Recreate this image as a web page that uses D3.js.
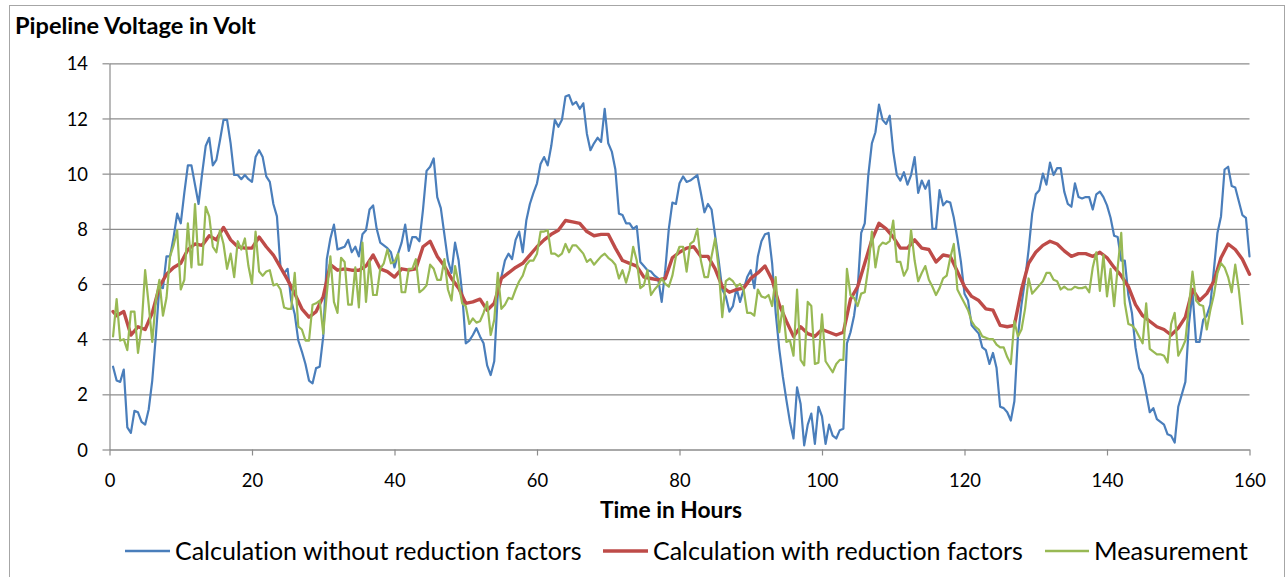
<!DOCTYPE html>
<html>
<head>
<meta charset="utf-8">
<script src="https://cdn.jsdelivr.net/npm/d3@7"></script>
<style>
  html, body { margin: 0; padding: 0; background: #ffffff; }
  svg { display: block; }
  text { font-family: Lato, "Open Sans", "Liberation Sans", sans-serif; fill: #000;
         font-variant-ligatures: none; font-feature-settings: "liga" 0, "dlig" 0, "clig" 0; }
</style>
</head>
<body>
<svg id="chart" width="1287" height="577"></svg>
<script>
// ---------------- data ----------------
const chartTitle = "Pipeline Voltage in Volt";
const xAxisTitle = "Time in Hours";
const seriesNames = ["Calculation without reduction factors", "Calculation with reduction factors", "Measurement"];
const xTicks = [0, 20, 40, 60, 80, 100, 120, 140, 160];
const yTicks = [0, 2, 4, 6, 8, 10, 12, 14];

// half-hourly samples, hours 0.5 .. 160
const blueHours = d3.range(0.5, 160.01, 0.5);
const blueValues = [
  3.0, 2.5, 2.45, 2.9, 0.8, 0.6, 1.4, 1.35, 1.0, 0.9,
  1.45, 2.5, 4.1, 5.9, 5.85, 7.0, 7.0, 7.7, 8.55, 8.2,
  9.3, 10.3, 10.3, 9.6, 8.9, 10.0, 11.0, 11.3, 10.3, 10.5,
  11.2, 11.95, 11.95, 11.1, 9.95, 9.95, 9.8, 9.95, 9.8, 9.7,
  10.6, 10.85, 10.6, 9.9, 9.7, 8.9, 8.45, 6.6, 6.4, 6.55,
  5.4, 4.9, 3.95, 3.55, 3.1, 2.5, 2.4, 2.95, 3.0, 4.1,
  6.9, 7.65, 8.15, 7.25, 7.3, 7.35, 7.6, 7.15, 7.35, 7.0,
  7.8, 7.95, 8.7, 8.85, 8.0, 7.5, 7.4, 7.3, 7.15, 6.6,
  7.1, 7.5, 8.15, 7.2, 7.7, 7.7, 7.55, 8.7, 10.1, 10.25,
  10.55, 9.15, 8.75, 7.8, 6.85, 6.4, 7.5, 6.85, 5.65, 3.85,
  3.95, 4.15, 4.4, 4.1, 3.85, 3.05, 2.7, 3.2, 5.65, 6.25,
  6.85, 7.1, 6.9, 7.6, 7.9, 7.15, 8.3, 8.9, 9.3, 9.65,
  10.35, 10.6, 10.3, 11.0, 11.95, 11.7, 11.95, 12.8, 12.85, 12.5,
  12.6, 12.35, 12.55, 11.45, 10.85, 11.1, 11.3, 11.15, 12.35, 11.1,
  10.8, 10.15, 8.55, 8.5, 8.2, 8.2, 8.0, 8.1, 6.8, 6.65,
  6.5, 6.45, 6.3, 6.2, 5.35, 6.5, 8.0, 8.95, 8.9, 9.65,
  9.9, 9.7, 9.75, 9.85, 9.95, 9.3, 8.6, 8.9, 8.7, 7.75,
  6.85, 5.8, 5.55, 5.0, 5.2, 5.85, 5.35, 5.8, 6.25, 6.5,
  5.85, 7.0, 7.55, 7.8, 7.85, 6.75, 4.95, 3.65, 2.65, 1.8,
  1.0, 0.4, 2.25, 1.65, 0.15, 0.9, 1.3, 0.2, 1.55, 1.2,
  0.2, 0.9, 0.5, 0.4, 0.7, 0.75, 3.85, 4.25, 4.85, 5.8,
  7.85, 8.2, 9.95, 11.1, 11.5, 12.5, 11.95, 11.8, 12.1, 10.8,
  9.95, 9.75, 10.05, 9.6, 9.95, 10.6, 9.3, 9.75, 9.45, 9.75,
  8.0, 8.0, 9.4, 8.85, 9.0, 8.95, 8.4, 7.65, 6.8, 5.65,
  5.4, 4.5, 4.35, 4.2, 3.7, 3.6, 3.1, 3.5, 2.95, 1.55,
  1.5, 1.35, 1.05, 1.75, 4.1, 5.25, 6.15, 7.25, 8.55, 9.25,
  9.4, 10.0, 9.6, 10.4, 9.95, 10.2, 10.2, 9.35, 8.9, 8.8,
  9.65, 9.15, 9.1, 9.15, 9.15, 8.7, 9.25, 9.35, 9.15, 8.85,
  8.4, 7.75, 7.7, 6.85, 6.85, 5.6, 4.95, 3.7, 2.95, 2.7,
  2.05, 1.35, 1.5, 1.1, 1.0, 0.9, 0.55, 0.5, 0.25, 1.55,
  2.0, 2.45, 4.55, 5.7, 3.9, 3.9, 4.7, 4.85, 5.25, 6.5,
  7.85, 8.45, 10.15, 10.25, 9.55, 9.5, 9.0, 8.5, 8.4, 7.0
];

// hourly samples, hour 0.5 then 1 .. 160
const redHours = [0.5].concat(d3.range(1, 161));
const redValues = [
  5.0,
  4.85, 5.0, 4.15, 4.45, 4.35, 4.95, 5.9, 6.35, 6.6, 6.75,
  7.25, 7.45, 7.4, 7.75, 7.6, 8.05, 7.6, 7.35, 7.3, 7.3,
  7.7, 7.35, 7.05, 6.6, 6.15, 5.65, 5.1, 4.8, 5.0, 5.55,
  6.7, 6.5, 6.55, 6.5, 6.5, 6.65, 7.05, 6.55, 6.45, 6.25,
  6.55, 6.5, 6.55, 7.35, 7.55, 7.0, 6.65, 6.2, 5.85, 5.3,
  5.35, 5.45, 5.05, 5.3, 6.2, 6.4, 6.6, 6.75, 7.05, 7.35,
  7.6, 7.8, 7.95, 8.3, 8.25, 8.2, 7.9, 7.75, 7.8, 7.8,
  7.3, 6.85, 6.75, 6.65, 6.25, 6.2, 6.15, 6.2, 6.95, 7.15,
  7.3, 7.35, 7.0, 7.0, 6.55, 5.9, 5.7, 5.8, 5.85, 6.2,
  6.4, 6.65, 6.15, 5.25, 4.65, 4.1, 4.45, 4.2, 4.1, 4.35,
  4.25, 4.15, 4.25, 5.45, 5.9, 6.75, 7.6, 8.2, 8.0, 7.7,
  7.3, 7.3, 7.6, 7.3, 7.25, 6.8, 7.05, 7.0, 6.45, 5.9,
  5.55, 5.4, 5.1, 5.05, 4.5, 4.45, 4.5, 5.8, 6.75, 7.15,
  7.4, 7.55, 7.45, 7.2, 7.0, 7.1, 7.1, 7.0, 7.15, 6.95,
  6.6, 6.3, 5.9, 5.25, 4.85, 4.65, 4.45, 4.35, 4.15, 4.4,
  4.8, 5.8, 5.4, 5.65, 6.1, 6.95, 7.45, 7.25, 6.9, 6.35
];

// half-hourly samples, hours 0.5 .. 159
const greenHours = d3.range(0.5, 159.01, 0.5);
const greenValues = [
  4.1, 5.45, 3.95, 4.0, 3.6, 5.0, 5.0, 3.5, 4.45, 6.5,
  5.25, 3.9, 5.4, 6.15, 4.85, 5.5, 7.0, 7.4, 7.95, 5.8,
  6.15, 8.2, 6.6, 8.9, 6.7, 6.7, 8.8, 8.45, 7.35, 7.15,
  7.95, 7.45, 6.55, 7.1, 6.25, 7.55, 7.25, 7.65, 6.65, 6.0,
  7.9, 6.45, 6.3, 6.45, 6.5, 5.95, 6.0, 5.8, 5.15, 5.1,
  5.1, 6.4, 4.45, 4.35, 3.95, 3.95, 5.25, 5.3, 5.4, 4.2,
  5.65, 7.0, 5.35, 4.95, 6.95, 6.8, 5.25, 5.25, 6.6, 5.15,
  7.5, 5.35, 6.85, 5.6, 5.6, 6.55, 6.75, 7.25, 6.75, 6.8,
  7.1, 5.7, 5.7, 6.55, 6.55, 6.9, 5.7, 5.8, 5.95, 6.7,
  6.55, 6.15, 6.15, 6.9, 5.8, 5.4, 6.65, 6.0, 5.3, 5.2,
  4.55, 4.75, 4.6, 4.65, 4.95, 5.35, 4.15, 4.7, 6.4, 5.1,
  5.25, 5.5, 5.45, 5.8, 6.1, 6.3, 6.7, 6.85, 6.85, 7.1,
  7.9, 7.9, 7.95, 7.1, 7.1, 7.0, 7.1, 7.45, 7.15, 7.4,
  7.4, 7.25, 7.1, 6.8, 6.9, 6.7, 6.85, 7.0, 7.1, 6.95,
  6.85, 6.7, 6.2, 6.5, 6.05, 6.5, 7.35, 6.85, 5.85, 5.95,
  6.5, 5.6, 5.8, 5.95, 6.2, 6.0, 5.9, 6.3, 7.0, 7.35,
  7.35, 6.45, 7.45, 7.55, 8.0, 6.85, 6.25, 6.25, 7.0, 7.65,
  6.55, 4.8, 6.1, 6.2, 6.1, 5.9, 6.0, 5.8, 4.95, 4.95,
  4.85, 5.8, 5.55, 5.5, 5.6, 5.2, 6.25, 4.25, 5.2, 3.9,
  3.95, 3.4, 5.8, 3.25, 3.05, 5.35, 5.2, 3.1, 3.15, 4.9,
  3.2, 3.0, 2.8, 3.1, 3.25, 3.25, 6.55, 5.6, 5.5, 5.2,
  5.65, 5.7, 6.6, 7.9, 6.6, 7.35, 7.5, 7.45, 7.55, 8.3,
  6.8, 6.8, 6.3, 6.55, 7.95, 6.85, 6.1, 6.4, 6.65, 6.15,
  5.9, 5.6, 5.85, 6.2, 6.3, 6.95, 7.45, 5.8, 5.55, 5.3,
  5.05, 4.65, 4.45, 4.35, 4.1, 4.05, 4.0, 4.0, 3.8, 3.7,
  3.7, 3.35, 3.1, 4.65, 4.1, 4.35, 5.1, 6.2, 5.65, 5.8,
  5.95, 6.1, 6.4, 6.4, 6.15, 6.1, 5.8, 5.9, 5.8, 5.8,
  5.9, 5.85, 5.85, 5.9, 5.7, 6.6, 7.15, 5.75, 7.05, 5.55,
  6.55, 5.2, 6.6, 7.85, 5.3, 4.55, 4.5, 4.35, 4.1, 3.85,
  5.3, 3.65, 3.55, 3.45, 3.45, 3.4, 3.15, 4.55, 4.95, 3.4,
  3.65, 3.95, 5.2, 6.45, 5.4, 5.25, 5.2, 4.35, 5.05, 5.6,
  6.4, 6.75, 6.6, 6.25, 5.7, 6.7, 5.8, 4.55
];

const seriesColors = ["#4a7ebb", "#be4b48", "#98b954"];

// ---------------- drawing ----------------
const svg = d3.select("#chart");
const plot = { left: 109.5, right: 1249.5, top: 63.3, bottom: 449.5 };
const gridColor = "#8c8c8c";

const x = d3.scaleLinear().domain([0, 160]).range([plot.left, plot.right]);
const y = d3.scaleLinear().domain([0, 14]).range([plot.bottom, plot.top]);

// fit a text element's font size so its width matches target
function fitWidth(sel, target, base) {
  sel.style("font-size", base + "px");
  const w = sel.node().getComputedTextLength();
  const fs = base * target / w;
  sel.style("font-size", fs + "px");
  return fs;
}

// outer chart border
svg.append("rect")
  .attr("x", 9.5).attr("y", 5.5)
  .attr("width", 1275).attr("height", 600)
  .attr("fill", "none").attr("stroke", "#a6a6a6").attr("stroke-width", 1);

// horizontal gridlines
svg.append("g")
  .attr("transform", `translate(${plot.left},0)`)
  .call(d3.axisLeft(y).tickValues(yTicks).tickSize(-(plot.right - plot.left)).tickFormat(""))
  .call(g => g.select(".domain").remove())
  .call(g => g.selectAll("line").attr("stroke", gridColor).attr("stroke-width", 1.2));

// y axis
const yAxisG = svg.append("g")
  .attr("transform", `translate(${plot.left},0)`)
  .call(d3.axisLeft(y).tickValues(yTicks).tickSize(7).tickSizeOuter(0).tickFormat(d3.format("d")));
yAxisG.select(".domain").attr("stroke", gridColor).attr("stroke-width", 1.2);
yAxisG.selectAll(".tick line").attr("stroke", gridColor).attr("stroke-width", 1.2);
const yLabels = yAxisG.selectAll(".tick text")
  .attr("x", -21.5).attr("dy", "0.36em")
  .style("font-family", "Lato, sans-serif").attr("fill", "#000");

// x axis
const xAxisG = svg.append("g")
  .attr("transform", `translate(0,${plot.bottom})`)
  .call(d3.axisBottom(x).tickValues(xTicks).tickSize(6).tickSizeOuter(0).tickFormat(d3.format("d")));
xAxisG.select(".domain").attr("stroke", gridColor).attr("stroke-width", 1.2);
xAxisG.selectAll(".tick line").attr("stroke", gridColor).attr("stroke-width", 1.2);
const xLabels = xAxisG.selectAll(".tick text")
  .attr("y", 37.5).attr("dy", null)
  .style("font-family", "Lato, sans-serif").attr("fill", "#000");

// tick label size: fit "100" to its measured width
const t100 = xLabels.filter(d => d === 100);
const tickFs = fitWidth(t100, 32, 18);
xLabels.style("font-size", tickFs + "px");
yLabels.style("font-size", tickFs + "px");

// series lines
const line = d3.line().x(d => x(d[0])).y(d => y(d[1]));
const blueData = blueHours.map((h, i) => [h, blueValues[i]]);
const redData = redHours.map((h, i) => [h, redValues[i]]);
const greenData = greenHours.map((h, i) => [h, greenValues[i]]);

svg.append("path").datum(blueData).attr("d", line)
  .attr("fill", "none").attr("stroke", seriesColors[0]).attr("stroke-width", 2.2)
  .attr("stroke-linejoin", "round").attr("stroke-linecap", "round");
svg.append("path").datum(redData).attr("d", line)
  .attr("fill", "none").attr("stroke", seriesColors[1]).attr("stroke-width", 3.4)
  .attr("stroke-linejoin", "round").attr("stroke-linecap", "round");
svg.append("path").datum(greenData).attr("d", line)
  .attr("fill", "none").attr("stroke", seriesColors[2]).attr("stroke-width", 2.2)
  .attr("stroke-linejoin", "round").attr("stroke-linecap", "round");

// chart title
const title = svg.append("text")
  .attr("x", 15).attr("y", 33.5)
  .style("font-weight", "bold")
  .text(chartTitle);
fitWidth(title, 241, 20);

// x axis title
const xt = svg.append("text")
  .attr("x", 600).attr("y", 518)
  .style("font-weight", "bold")
  .text(xAxisTitle);
fitWidth(xt, 142, 20);

// legend
const legendItems = [
  { name: seriesNames[0], color: seriesColors[0], x1: 125, x2: 170, tx: 175, tw: 407, sw: 2.5 },
  { name: seriesNames[1], color: seriesColors[1], x1: 603, x2: 648, tx: 653, tw: 370, sw: 3.4 },
  { name: seriesNames[2], color: seriesColors[2], x1: 1045, x2: 1089, tx: 1094, tw: 154, sw: 2.5 }
];
const legendY = 551;
const lg = svg.append("g");
legendItems.forEach(it => {
  lg.append("line")
    .attr("x1", it.x1).attr("x2", it.x2).attr("y1", legendY).attr("y2", legendY)
    .attr("stroke", it.color).attr("stroke-width", it.sw);
  const t = lg.append("text")
    .attr("x", it.tx).attr("y", 560)
    .text(it.name);
  fitWidth(t, it.tw, 22);
});
</script>
</body>
</html>
